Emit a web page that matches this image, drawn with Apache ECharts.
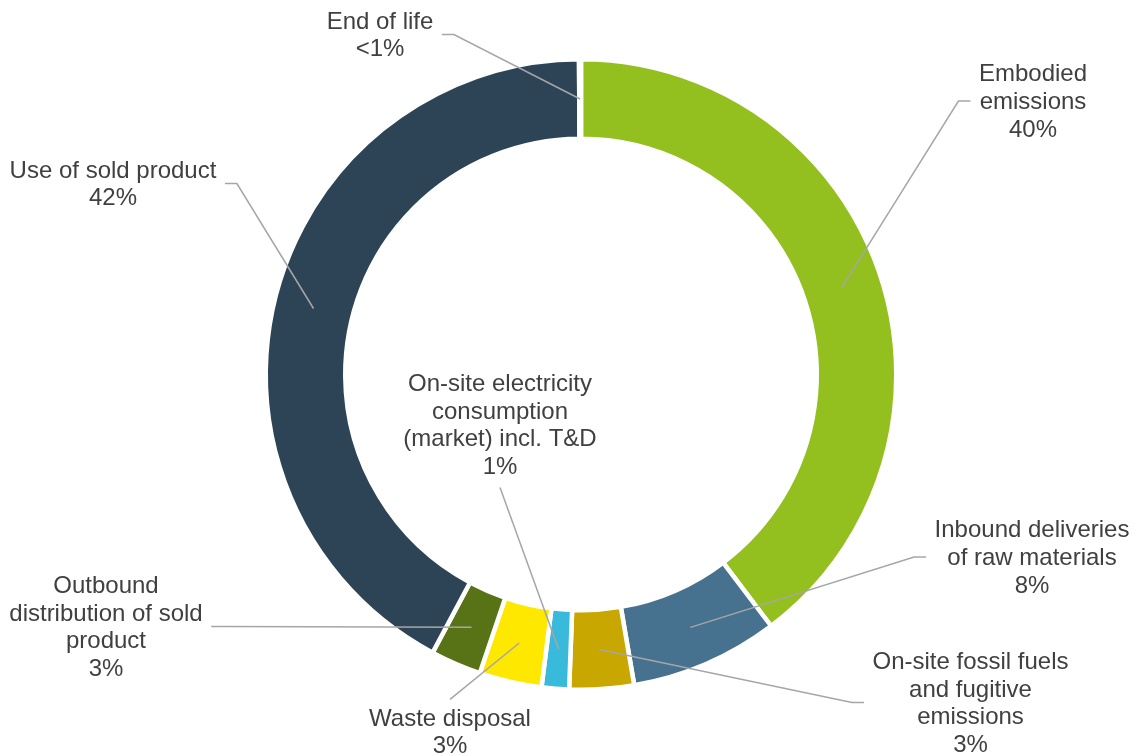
<!DOCTYPE html>
<html>
<head>
<meta charset="utf-8">
<script src="https://cdn.jsdelivr.net/npm/echarts@6/dist/echarts.min.js"></script>
<style>
  html, body { margin: 0; padding: 0; background: #ffffff; }
  #chart { width: 1142px; height: 756px; }
</style>
</head>
<body>
<div id="chart"></div>
<script>
// Emission categories, clockwise from 12 o'clock
const categories = [
  'Embodied\nemissions',
  'Inbound deliveries\nof raw materials',
  'On-site fossil fuels\nand fugitive\nemissions',
  'On-site electricity\nconsumption\n(market) incl. T&D',
  'Waste disposal',
  'Outbound\ndistribution of sold\nproduct',
  'Use of sold product',
  'End of life'
];
// Share of total emissions, %
const shares = [39.7, 7.6, 3.3, 1.4, 3.2, 2.6, 42.1, 0.1];

const sliceColors = ['#93C01F', '#47728F', '#C8A800', '#3ABADA', '#FFE800', '#577316', '#2D4457', '#7F7F7F'];

// Where each label block sits (centre) and which side its leader line meets
const labelSpots = [
  { x: 1033, y: 102.5, side: 'left' },
  { x: 1032, y: 558.5, side: 'left' },
  { x: 970.5, y: 704, side: 'left' },
  { x: 500, y: 426, side: 'bottom' },
  { x: 450, y: 733, side: 'top' },
  { x: 106, y: 628, side: 'right' },
  { x: 113, y: 185, side: 'right' },
  { x: 380, y: 36, side: 'right' }
];

const chart = echarts.init(document.getElementById('chart'), null, { renderer: 'canvas' });

const border = 4.5;
const ringOuter = 313, ringInner = 238;
const ringCenter = [581, 374.5];
const ringRadius = [ringInner - border / 2, ringOuter + border / 2];

function pctText(v) {
  return v < 0.5 ? '<1%' : Math.round(v) + '%';
}

// Leader line: from the middle of the slice (mid angle, mid ring) to the label
function leaderLine(p) {
  const spot = labelSpots[p.dataIndex];
  const w = p.labelRect.width, h = p.labelRect.height;
  const lay = chart.getModel().getSeriesByIndex(p.seriesIndex).getData().getItemLayout(p.dataIndex);
  const mid = (lay.startAngle + lay.endAngle) / 2;
  const rm = (lay.r + lay.r0) / 2;
  const sx = lay.cx + rm * Math.cos(mid);
  const sy = lay.cy + rm * Math.sin(mid);
  const gap = 8.5, tail = 12;
  if (spot.side === 'left') {
    const ex = spot.x - w / 2 - gap, ey = spot.y - 1.5;
    return [[sx, sy], [ex - tail, ey], [ex, ey]];
  }
  if (spot.side === 'right') {
    const ex = spot.x + w / 2 + gap, ey = spot.y - 1.5;
    return [[sx, sy], [ex + tail, ey], [ex, ey]];
  }
  if (spot.side === 'bottom') {
    return [[sx, sy], [spot.x, spot.y + h / 2 + 6]];
  }
  return [[sx, sy], [spot.x, spot.y - h / 2 - 6]];
}

const ringData = categories.map(function (name, i) {
  return { name: name, value: shares[i], itemStyle: { color: sliceColors[i] } };
});

chart.setOption({
  backgroundColor: '#ffffff',
  animation: false,
  series: [
    {
      // coloured ring
      type: 'pie',
      z: 2,
      center: ringCenter,
      radius: ringRadius,
      startAngle: 90,
      clockwise: true,
      avoidLabelOverlap: false,
      emphasis: { disabled: true },
      silent: true,
      itemStyle: { borderColor: '#ffffff', borderWidth: border },
      label: { show: false },
      labelLine: { show: false },
      data: ringData
    },
    {
      // same layout on top, carrying the labels and leader lines
      type: 'pie',
      z: 4,
      center: ringCenter,
      radius: ringRadius,
      startAngle: 90,
      clockwise: true,
      avoidLabelOverlap: false,
      emphasis: { disabled: true },
      silent: true,
      itemStyle: { color: 'rgba(0,0,0,0)', borderWidth: 0 },
      label: {
        show: true,
        position: 'outside',
        color: '#404040',
        fontFamily: '"Liberation Sans", Arial, sans-serif',
        fontSize: 24,
        lineHeight: 27.7,
        align: 'center',
        formatter: function (p) { return p.name + '\n' + pctText(p.value); }
      },
      labelLine: {
        show: true,
        smooth: false,
        lineStyle: { color: '#A6A6A6', width: 1.5 }
      },
      labelLayout: function (p) {
        const spot = labelSpots[p.dataIndex];
        return {
          x: spot.x,
          y: spot.y,
          align: 'center',
          verticalAlign: 'middle',
          labelLinePoints: leaderLine(p)
        };
      },
      data: categories.map(function (name, i) {
        return { name: name, value: shares[i] };
      })
    }
  ]
});
</script>
</body>
</html>
